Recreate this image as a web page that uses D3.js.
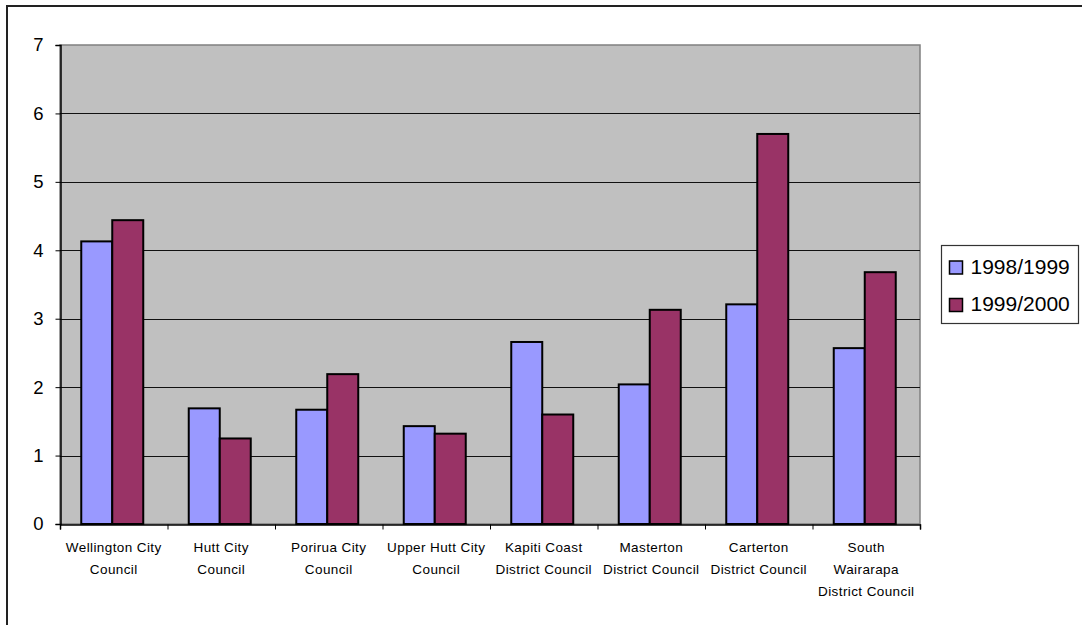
<!DOCTYPE html>
<html><head><meta charset="utf-8">
<script src="https://cdn.jsdelivr.net/npm/d3@7"></script>
<style>body{margin:0;background:#fff;}svg{display:block;}</style>
</head><body>
<svg id="c" width="1082" height="625"></svg>
<script>
const categories = [
  ["Wellington City", "Council"],
  ["Hutt City", "Council"],
  ["Porirua City", "Council"],
  ["Upper Hutt City", "Council"],
  ["Kapiti Coast", "District Council"],
  ["Masterton", "District Council"],
  ["Carterton", "District Council"],
  ["South", "Wairarapa", "District Council"]
];
const seriesNames = ["1998/1999", "1999/2000"];
const values1998 = [4.13, 1.69, 1.67, 1.43, 2.66, 2.04, 3.21, 2.57];
const values1999 = [4.44, 1.25, 2.19, 1.32, 1.60, 3.13, 5.70, 3.68];
const yTicks = [0, 1, 2, 3, 4, 5, 6, 7];
const colors = ["#9999FF", "#993366"];

const svg = d3.select("#c");
const L = 60, R = 920, T = 45, B = 524;
const FONT = "Arial, 'Liberation Sans', sans-serif";

// outer border
svg.append("rect").attr("x", 7).attr("y", 6).attr("width", 1090).attr("height", 640)
  .attr("fill", "#fff").attr("stroke", "#222").attr("stroke-width", 2);

const x = d3.scaleBand().domain(d3.range(categories.length)).range([L, R]).paddingInner(0).paddingOuter(0);
const y = d3.scaleLinear().domain([0, 7]).range([B, T]);

svg.append("rect").attr("x", L).attr("y", T).attr("width", R - L).attr("height", B - T)
  .attr("fill", "#C0C0C0").attr("stroke", "#808080").attr("stroke-width", 1.5);

// gridlines
svg.append("g").selectAll("line").data(yTicks.filter(d => d > 0 && d < 7)).join("line")
  .attr("x1", L).attr("x2", R).attr("y1", d => Math.round(y(d)) + 0.5).attr("y2", d => Math.round(y(d)) + 0.5)
  .attr("stroke", "#111").attr("stroke-width", 1);

// bars
const barW = 31;
const data = categories.map((c, i) => [values1998[i], values1999[i]]);
const g = svg.append("g");
data.forEach((vals, i) => {
  const cx = x(i) + x.bandwidth() / 2 - 1.5;
  vals.forEach((v, j) => {
    g.append("rect")
      .attr("x", cx - barW + j * barW)
      .attr("y", y(v))
      .attr("width", barW)
      .attr("height", y(0) - y(v))
      .attr("fill", colors[j]).attr("stroke", "#000").attr("stroke-width", 2);
  });
});

// y axis
const yAxis = d3.axisLeft(y).tickValues(yTicks).tickSize(5).tickPadding(12).tickFormat(d3.format("d"));
const ya = svg.append("g").attr("transform", `translate(${L + 0.5},0)`).call(yAxis);
ya.select(".domain").attr("stroke", "#000").attr("stroke-width", 1.5);
ya.selectAll(".tick line").attr("stroke", "#000");
ya.selectAll(".tick text").attr("font-family", FONT).attr("font-size", 18.5).attr("fill", "#000");

// x axis
const xAxis = d3.axisBottom(d3.scaleLinear().domain([0, 8]).range([L, R])).tickValues(d3.range(0, 9)).tickSize(5).tickFormat("");
const xa = svg.append("g").attr("transform", `translate(0,${B + 0.5})`).call(xAxis);
xa.select(".domain").attr("stroke", "#000").attr("stroke-width", 1.5);
xa.selectAll(".tick line").attr("stroke", "#000");

// category labels
const lab = svg.append("g").attr("font-family", FONT).attr("font-size", 13.5).attr("fill", "#000")
  .attr("text-anchor", "middle").attr("letter-spacing", 0.4);
categories.forEach((lines, i) => {
  const cx = x(i) + x.bandwidth() / 2;
  lines.forEach((t, k) => {
    lab.append("text").attr("x", cx).attr("y", 551.5 + k * 22).text(t);
  });
});

// legend
const lg = svg.append("g");
lg.append("rect").attr("x", 941.5).attr("y", 245.5).attr("width", 137).attr("height", 78)
  .attr("fill", "#fff").attr("stroke", "#333").attr("stroke-width", 1.2);
seriesNames.forEach((n, j) => {
  const yy = 261 + j * 37.5;
  lg.append("rect").attr("x", 949.5).attr("y", yy).attr("width", 13).attr("height", 13)
    .attr("fill", colors[j]).attr("stroke", "#000").attr("stroke-width", 1.5);
  lg.append("text").attr("x", 970.5).attr("y", yy + 12.5).text(n)
    .attr("font-family", FONT).attr("font-size", 21).attr("fill", "#000");
});
</script>
</body></html>
